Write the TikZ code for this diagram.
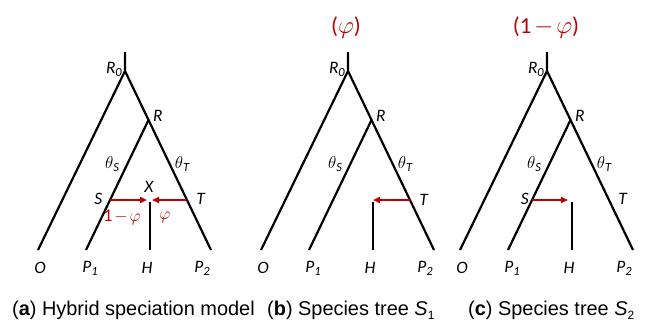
\documentclass[tikz,border=0pt]{standalone}
\usepackage{fontspec}
\setmainfont{Carlito}
\newfontfamily\capfont{Liberation Sans}
\usetikzlibrary{arrows.meta,calc}
\definecolor{hred}{RGB}{192,0,0}
\newcommand{\lsub}[1]{\raisebox{-3bp}{\fontsize{12.5}{12.5}\selectfont #1}}
\newcommand{\csub}[1]{\raisebox{-4.5bp}{\fontsize{12}{12}\selectfont #1}}
\begin{document}
\begin{tikzpicture}[x=1bp,y=-1bp,
  branch/.style={line width=2.2bp,black,line cap=butt},
  migr/.style={line width=1.8bp,hred,-{Triangle[length=7bp,width=6bp]}},
  lab/.style={inner sep=0pt,font=\fontsize{17.5}{20}\selectfont\itshape},
  rlab/.style={inner sep=0pt,text=hred,font=\fontsize{18}{20}\selectfont\itshape},
  ttl/.style={inner sep=0pt,text=hred,font=\fontsize{23}{26}\selectfont},
  captxt/.style={inner sep=0pt,anchor=base west,font=\capfont\fontsize{20}{24}\selectfont}]
\useasboundingbox (0,0) rectangle (645,328);
\foreach \p/\dx in {a/0,b/223,c/422}{
  \coordinate (\p-top) at (125+\dx,52);
  \coordinate (\p-R0) at (125+\dx,71);
  \coordinate (\p-O) at (38+\dx,250);
  \coordinate (\p-R) at (148.5+\dx,120);
  \coordinate (\p-P1) at (86+\dx,250);
  \coordinate (\p-P2) at (211+\dx,250);
  \coordinate (\p-Ht) at (150+\dx,202);
  \coordinate (\p-Hb) at (150+\dx,250);
  \coordinate (\p-S) at ($(\p-R)!0.615!(\p-P1)$);
  \coordinate (\p-T) at ($(\p-R0)!0.7207!(\p-P2)$);
  \draw[branch] (\p-top) -- (\p-R0) -- (\p-O);
  \draw[branch] (\p-R0) -- (\p-P2);
  \draw[branch] (\p-R) -- (\p-P1);
  \draw[branch] (\p-Ht) -- (\p-Hb);
  \node[lab,anchor=east] (\p-lR0) at (122+\dx,69) {R\lsub{0}};
  \node[lab,anchor=west] (\p-lR) at (153+\dx,116) {R};
  \node[lab] (\p-lthS) at (112+\dx,164) {$\theta$\lsub{\itshape S}};
  \node[lab] (\p-lthT) at (182+\dx,164) {$\theta$\lsub{\itshape T}};
  \node[lab] (\p-lO) at (40+\dx,268) {O};
  \node[lab] (\p-lP1) at (90+\dx,268) {P\lsub{1}};
  \node[lab] (\p-lH) at (147+\dx,268) {H};
  \node[lab] (\p-lP2) at (202+\dx,268) {P\lsub{2}};
}
% panel a
\coordinate (a-Xl) at (147,200);
\coordinate (a-Xr) at (152,200);
\draw[migr] (a-S) -- (a-Xl);
\draw[migr] (a-T) -- (a-Xr);
\node[lab,anchor=east] (a-lS) at (102.5,199) {S};
\node[lab] (a-lT) at (200.5,199) {T};
\node[lab] (a-lX) at (149,187) {X};
\node[rlab] (a-l1phi) at (122,217) {{\upshape 1}${}\mkern-2mu-\mkern-2mu\varphi$};
\node[rlab] (a-lphi) at (165,217) {$\varphi$};
% panel b
\coordinate (b-Hx) at (373,200);
\draw[migr] (b-T) -- (b-Hx);
\node[lab] (b-lT) at (423.5,200) {T};
\node[ttl] (b-title) at (346,28) {($\varphi$)};
% panel c
\coordinate (c-Hx) at (568,200);
\draw[migr] (c-S) -- (c-Hx);
\node[lab,anchor=east] (c-lS) at (529,199) {S};
\node[lab] (c-lT) at (622.5,199) {T};
\node[ttl] (c-title) at (546,28) {(1${}\mkern-2mu-\mkern-2mu\varphi$)};
% captions
\node[captxt] (capa) at (12,315) {({\bfseries a}) Hybrid speciation model};
\node[captxt] (capb) at (267,315) {({\bfseries b}) Species tree {\itshape S}\csub{1}};
\node[captxt] (capc) at (468,315) {({\bfseries c}) Species tree {\itshape S}\csub{2}};
\end{tikzpicture}
\end{document}
